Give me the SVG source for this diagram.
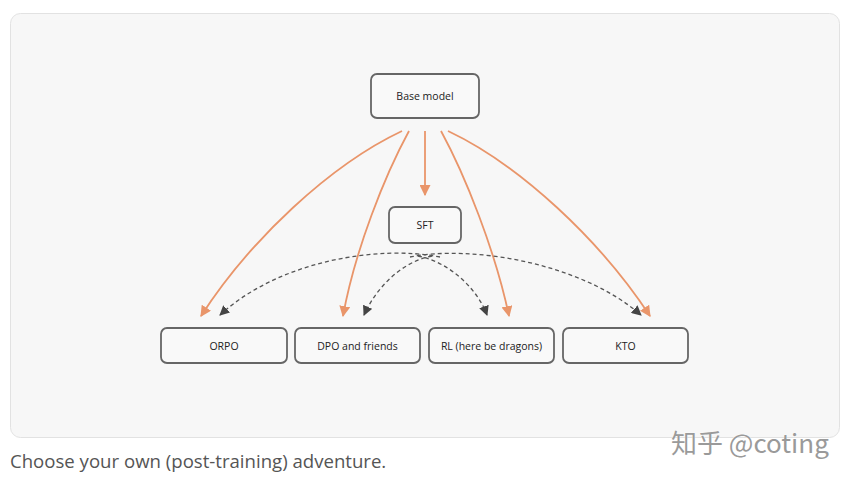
<svg xmlns="http://www.w3.org/2000/svg" width="850" height="483" viewBox="0 0 850 483">
<defs>
<style>
.node rect{fill:#f9f9f9;stroke:#666;stroke-width:1.8}
.node text{font-family:"Open Sans","Noto Sans",sans-serif;font-size:10.5px;fill:#222;text-anchor:middle;dominant-baseline:central}
.solid{fill:none;stroke:#e9956a;stroke-width:1.8}
.dash{fill:none;stroke:#555;stroke-width:1.3;stroke-dasharray:4 3}
</style>
<marker id="ao" viewBox="0 0 10 10" refX="9" refY="5" markerWidth="11" markerHeight="11" markerUnits="userSpaceOnUse" orient="auto"><path d="M0,0 L10,5 L0,10 z" fill="#e9956a"/></marker>
<marker id="ag" viewBox="0 0 10 10" refX="9" refY="5" markerWidth="10" markerHeight="10" markerUnits="userSpaceOnUse" orient="auto"><path d="M0,0 L10,5 L0,10 z" fill="#444"/></marker>
</defs>
<rect width="850" height="483" fill="#fff"/>
<rect x="10.5" y="13.5" width="829" height="424" rx="10" fill="#f7f7f7" stroke="#e2e2e2"/>
<g id="connectors">
<path class="solid" d="M402,131 C330,165 250,240 201,316" marker-end="url(#ao)"/>
<path class="solid" d="M409,131 C385,175 355,250 343,316" marker-end="url(#ao)"/>
<path class="solid" d="M425,131 L425,195" marker-end="url(#ao)"/>
<path class="solid" d="M441,131 C465,175 495,250 509,316" marker-end="url(#ao)"/>
<path class="solid" d="M448,131 C520,165 600,240 650,316" marker-end="url(#ao)"/>
<path class="dash" d="M440,257 C380,245 280,260 220,315" marker-end="url(#ag)"/>
<path class="dash" d="M432,256 C400,262 375,290 364,315" marker-end="url(#ag)"/>
<path class="dash" d="M418,256 C450,262 478,290 487,315" marker-end="url(#ag)"/>
<path class="dash" d="M410,257 C470,245 580,262 641,315" marker-end="url(#ag)"/>
</g>
<g id="base" class="node"><rect x="371" y="74" width="108" height="44" rx="6"/><text x="425" y="96">Base model</text></g>
<g id="sft" class="node"><rect x="389" y="207" width="72" height="36" rx="6"/><text x="425" y="225">SFT</text></g>
<g id="orpo" class="node"><rect x="161" y="328" width="126" height="35" rx="6"/><text x="224" y="346">ORPO</text></g>
<g id="dpo" class="node"><rect x="295" y="328" width="125" height="35" rx="6"/><text x="357.5" y="346">DPO and friends</text></g>
<g id="rl" class="node"><rect x="429" y="328" width="125" height="35" rx="6"/><text x="491.5" y="346">RL (here be dragons)</text></g>
<g id="kto" class="node"><rect x="563" y="328" width="125" height="35" rx="6"/><text x="625.5" y="346">KTO</text></g>
<text x="10" y="468" font-family="'Open Sans','Noto Sans',sans-serif" font-size="18.6" fill="#555">Choose your own (post-training) adventure.</text>
<text x="671" y="453" font-family="'Noto Sans CJK SC',sans-serif" font-size="26" fill="#9a9a9a" stroke="#fff" stroke-width="0.6" paint-order="stroke">知乎 @coting</text>
</svg>
